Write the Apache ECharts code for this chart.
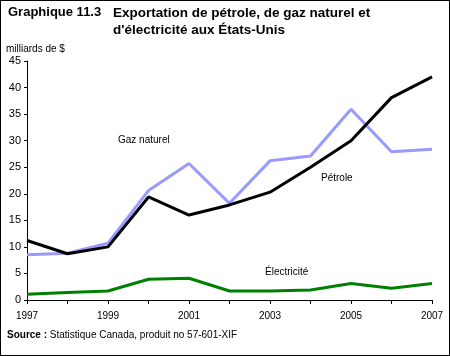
<!DOCTYPE html>
<html>
<head>
<meta charset="utf-8">
<script src="https://cdn.jsdelivr.net/npm/echarts@6/dist/echarts.min.js"></script>
<style>
  html, body { margin: 0; padding: 0; background: #fff; }
  #chart { width: 450px; height: 356px; box-sizing: border-box; border: 1px solid #000; }
</style>
</head>
<body>
<div id="chart"></div>
<script>
const years = ['1997', '1998', '1999', '2000', '2001', '2002', '2003', '2004', '2005', '2006', '2007'];
const petrole = [11.2, 8.7, 10.0, 19.4, 16.0, 17.9, 20.3, 25.0, 30.0, 38.1, 42.0];
const gazNaturel = [8.5, 8.8, 10.7, 20.6, 25.7, 18.2, 26.2, 27.1, 35.9, 27.9, 28.4];
const electricite = [1.1, 1.4, 1.7, 3.9, 4.1, 1.7, 1.7, 1.9, 3.1, 2.2, 3.1];

const myChart = echarts.init(document.getElementById('chart'));
const font = 'Liberation Sans, Arial, sans-serif';

const option = {
    animation: false,
    textStyle: { fontFamily: font },
    grid: { left: 26, right: 17, top: 60, bottom: 55 },
    graphic: [
        { type: 'text', left: 7, top: 5, style: { text: 'Graphique 11.3', font: 'bold 13px ' + font, fill: '#000' } },
        { type: 'text', left: 112, top: 5, style: { text: 'Exportation de pétrole, de gaz naturel et', font: 'bold 13.5px ' + font, fill: '#000' } },
        { type: 'text', left: 112, top: 22, style: { text: "d'électricité aux États-Unis", font: 'bold 13.5px ' + font, fill: '#000' } },
        { type: 'text', left: 5, top: 43, style: { text: 'milliards de $', font: '10px ' + font, fill: '#000' } },
        { type: 'text', left: 6, top: 329, style: { text: '{b|Source :} Statistique Canada, produit no 57-601-XIF', font: '10px ' + font, fill: '#000', rich: { b: { fontWeight: 'bold', fontSize: 10, fontFamily: font } } } },
        { type: 'text', left: 117, top: 134, style: { text: 'Gaz naturel', font: '10px ' + font, fill: '#000' } },
        { type: 'text', left: 320, top: 172, style: { text: 'Pétrole', font: '10px ' + font, fill: '#000' } },
        { type: 'text', left: 264, top: 266, style: { text: 'Électricité', font: '10px ' + font, fill: '#000' } }
    ],
    xAxis: {
        type: 'category',
        data: years,
        boundaryGap: false,
        axisLine: { lineStyle: { color: '#000', width: 1 } },
        axisTick: { show: true, length: 4, interval: 0, lineStyle: { color: '#000' } },
        axisLabel: { color: '#000', fontSize: 10, margin: 11, interval: 1 },
        splitLine: { show: false }
    },
    yAxis: {
        type: 'value',
        min: 0,
        max: 45,
        interval: 5,
        axisLine: { show: true, lineStyle: { color: '#000', width: 1 } },
        axisTick: { show: true, length: 3, lineStyle: { color: '#000' } },
        axisLabel: { color: '#000', fontSize: 11, margin: 6 },
        splitLine: { show: false }
    },
    series: [
        {
            name: 'Gaz naturel',
            type: 'line',
            data: gazNaturel,
            symbol: 'none',
            lineStyle: { color: '#9999ff', width: 3 },
            z: 2
        },
        {
            name: 'Pétrole',
            type: 'line',
            data: petrole,
            symbol: 'none',
            lineStyle: { color: '#000000', width: 3 },
            z: 3
        },
        {
            name: 'Électricité',
            type: 'line',
            data: electricite,
            symbol: 'none',
            lineStyle: { color: '#008000', width: 3 },
            z: 3
        }
    ]
};

myChart.setOption(option);
</script>
</body>
</html>
